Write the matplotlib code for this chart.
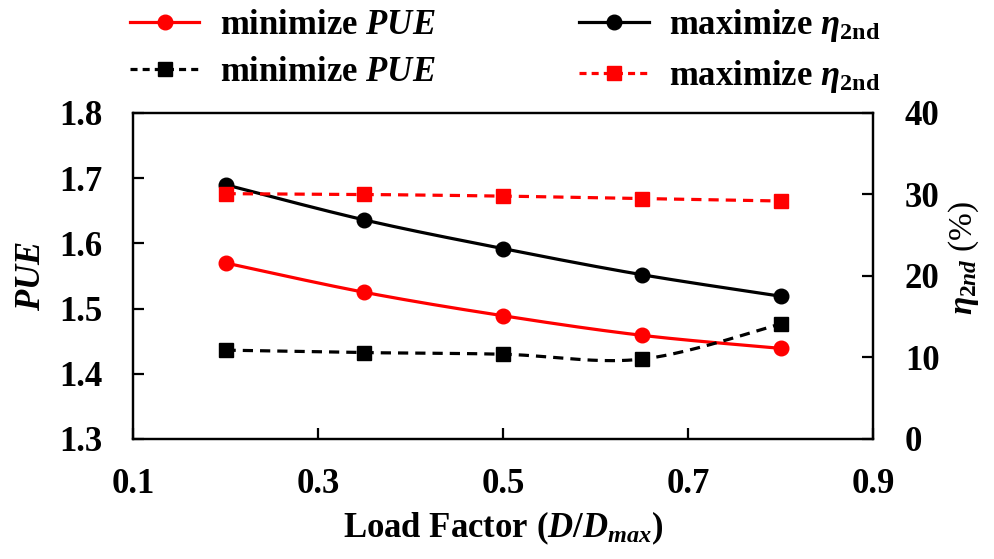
import numpy as np
import matplotlib
matplotlib.use("Agg")
import matplotlib.pyplot as plt
from matplotlib.ticker import FixedLocator

plt.rcParams['font.family'] = ['Liberation Serif', 'DejaVu Serif']
plt.rcParams['font.weight'] = 'bold'
plt.rcParams['mathtext.fontset'] = 'custom'
plt.rcParams['mathtext.rm'] = 'Liberation Serif:bold'
plt.rcParams['mathtext.it'] = 'Liberation Serif:italic:bold'
plt.rcParams['mathtext.bf'] = 'Liberation Serif:bold'

load_factor = [0.2, 0.35, 0.5, 0.65, 0.8]
pue_min_pue = [1.570, 1.525, 1.489, 1.459, 1.439]
pue_max_eta = [1.690, 1.636, 1.592, 1.552, 1.519]
eta_min_pue = [10.9, 10.6, 10.4, 9.8, 14.1]
eta_max_eta = [30.1, 30.0, 29.8, 29.5, 29.2]

x_ticks = [0.1, 0.3, 0.5, 0.7, 0.9]
y_ticks = [1.3, 1.4, 1.5, 1.6, 1.7, 1.8]
y2_ticks = [0, 10, 20, 30, 40]


def smooth(x, y, n=40):
    """Excel-like smoothed line through the points (Bezier with Catmull-Rom controls)."""
    x = np.asarray(x, float); y = np.asarray(y, float)
    px, py = [], []
    m = len(x)
    for i in range(m - 1):
        p0 = np.array([x[max(i - 1, 0)], y[max(i - 1, 0)]])
        p1 = np.array([x[i], y[i]])
        p2 = np.array([x[i + 1], y[i + 1]])
        p3 = np.array([x[min(i + 2, m - 1)], y[min(i + 2, m - 1)]])
        c1 = p1 + (p2 - p0) / 6.0
        c2 = p2 - (p3 - p1) / 6.0
        t = np.linspace(0, 1, n)[:, None]
        b = ((1 - t) ** 3) * p1 + 3 * ((1 - t) ** 2) * t * c1 + 3 * (1 - t) * t ** 2 * c2 + t ** 3 * p2
        px.extend(b[:, 0]); py.extend(b[:, 1])
    return np.array(px), np.array(py)


fig = plt.figure(figsize=(9.95, 5.59), dpi=100)
ax = fig.add_axes([0.1337, 0.2147, 0.7437, 0.5832])
ax2 = ax.twinx()

lw = 2.3
ms = 10.5
dash = (0, (3.2, 2.2))
FS = 25

sx, sy = smooth(load_factor, pue_min_pue)
ax.plot(sx, sy, color='red', lw=lw)
ax.plot(load_factor, pue_min_pue, 'o', color='red', ms=ms)
h1, = ax.plot([], [], '-o', color='red', lw=lw, ms=ms, label=r'minimize $PUE$')

sx, sy = smooth(load_factor, pue_max_eta)
ax.plot(sx, sy, color='black', lw=lw)
ax.plot(load_factor, pue_max_eta, 'o', color='black', ms=ms)
h2, = ax.plot([], [], '-o', color='black', lw=lw, ms=ms, label=r'maximize $\eta_{\mathrm{2nd}}$')

sx, sy = smooth(load_factor, eta_min_pue)
ax2.plot(sx, sy, color='black', lw=lw, linestyle=dash)
ax2.plot(load_factor, eta_min_pue, 's', color='black', ms=ms)
h3, = ax2.plot([], [], marker='s', color='black', lw=lw, ms=ms, linestyle=(0, (2.2, 1.6)), label=r'minimize $PUE$')

sx, sy = smooth(load_factor, eta_max_eta)
ax2.plot(sx, sy, color='red', lw=lw, linestyle=dash)
ax2.plot(load_factor, eta_max_eta, 's', color='red', ms=ms)
h4, = ax2.plot([], [], marker='s', color='red', lw=lw, ms=ms, linestyle=(0, (2.2, 1.6)), label=r'maximize $\eta_{\mathrm{2nd}}$')

ax.set_xlim(0.1, 0.9)
ax.set_ylim(1.3, 1.8)
ax2.set_ylim(0, 40)
ax.xaxis.set_major_locator(FixedLocator(x_ticks))
ax.yaxis.set_major_locator(FixedLocator(y_ticks))
ax2.yaxis.set_major_locator(FixedLocator(y2_ticks))
ax.set_xticklabels([f'{v:.1f}' for v in x_ticks])
ax.set_yticklabels([f'{v:.1f}' for v in y_ticks])
ax2.set_yticklabels([str(v) for v in y2_ticks])

for a in (ax, ax2):
    for s in a.spines.values():
        s.set_linewidth(1.6)
ax.tick_params(axis='both', direction='in', length=8, width=1.6, labelsize=FS)
ax.tick_params(axis='x', pad=21)
ax.tick_params(axis='y', pad=22)
ax2.tick_params(axis='y', direction='in', length=8, width=1.6, labelsize=FS, pad=23)

ax.set_xlabel(r'Load Factor ($D$/$D_{max}$)', fontsize=FS, fontweight='bold', labelpad=6)
ax.set_ylabel(r'$PUE$', fontsize=FS, labelpad=8)
ax2.set_ylabel(r'$\eta_{\mathit{2nd}}$ (%)', fontsize=24)
ax2.yaxis.set_label_coords(1.1, 0.555)

fig.legend(handles=[h1, h3, h2, h4], ncol=2, loc='upper left', bbox_to_anchor=(0.1307, 0.988),
           frameon=False, fontsize=FS, handlelength=2.0, columnspacing=4.15, labelspacing=0.42,
           handletextpad=0.58, borderpad=0.0, borderaxespad=0.0)

fig.savefig('out.png', dpi=100)
